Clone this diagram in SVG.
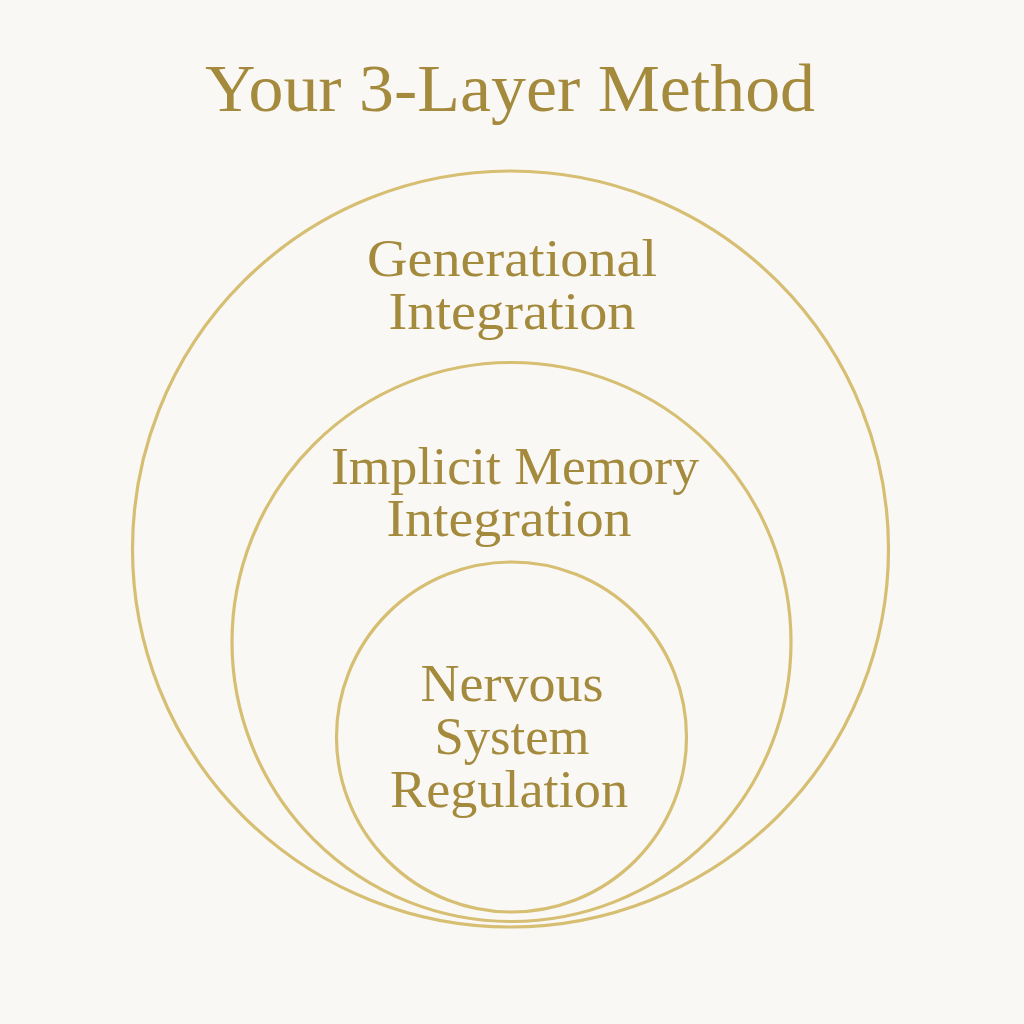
<svg xmlns="http://www.w3.org/2000/svg" width="1024" height="1024" viewBox="0 0 1024 1024">
<style>
.bg{fill:#faf8f4}
.ring{fill:none;stroke:#d6be72;stroke-width:3.2}
.t{font-family:"Liberation Serif","DejaVu Serif",serif;fill:#a48a3c;text-anchor:middle}
.title{font-size:68px}
.lbl{font-size:52px}
</style>
<rect class="bg" x="0" y="0" width="1024" height="1024"/>
<text class="t title" x="510" y="111" textLength="610" lengthAdjust="spacingAndGlyphs">Your 3-Layer Method</text>
<g id="outer">
<circle class="ring" cx="510.5" cy="549" r="378"/>
<text class="t lbl" x="512" y="276" textLength="290" lengthAdjust="spacingAndGlyphs">Generational</text>
<text class="t lbl" x="512" y="329" textLength="247" lengthAdjust="spacingAndGlyphs">Integration</text>
</g>
<g id="middle">
<circle class="ring" cx="511.5" cy="642" r="279.5"/>
<text class="t lbl" x="515" y="484" textLength="368" lengthAdjust="spacingAndGlyphs">Implicit Memory</text>
<text class="t lbl" x="509" y="536" textLength="245" lengthAdjust="spacingAndGlyphs">Integration</text>
</g>
<g id="inner">
<circle class="ring" cx="511.5" cy="737" r="175"/>
<text class="t lbl" x="512" y="701" textLength="183" lengthAdjust="spacingAndGlyphs">Nervous</text>
<text class="t lbl" x="512" y="754" textLength="155" lengthAdjust="spacingAndGlyphs">System</text>
<text class="t lbl" x="509" y="807" textLength="238" lengthAdjust="spacingAndGlyphs">Regulation</text>
</g>
<g id="connectors"/>
</svg>
